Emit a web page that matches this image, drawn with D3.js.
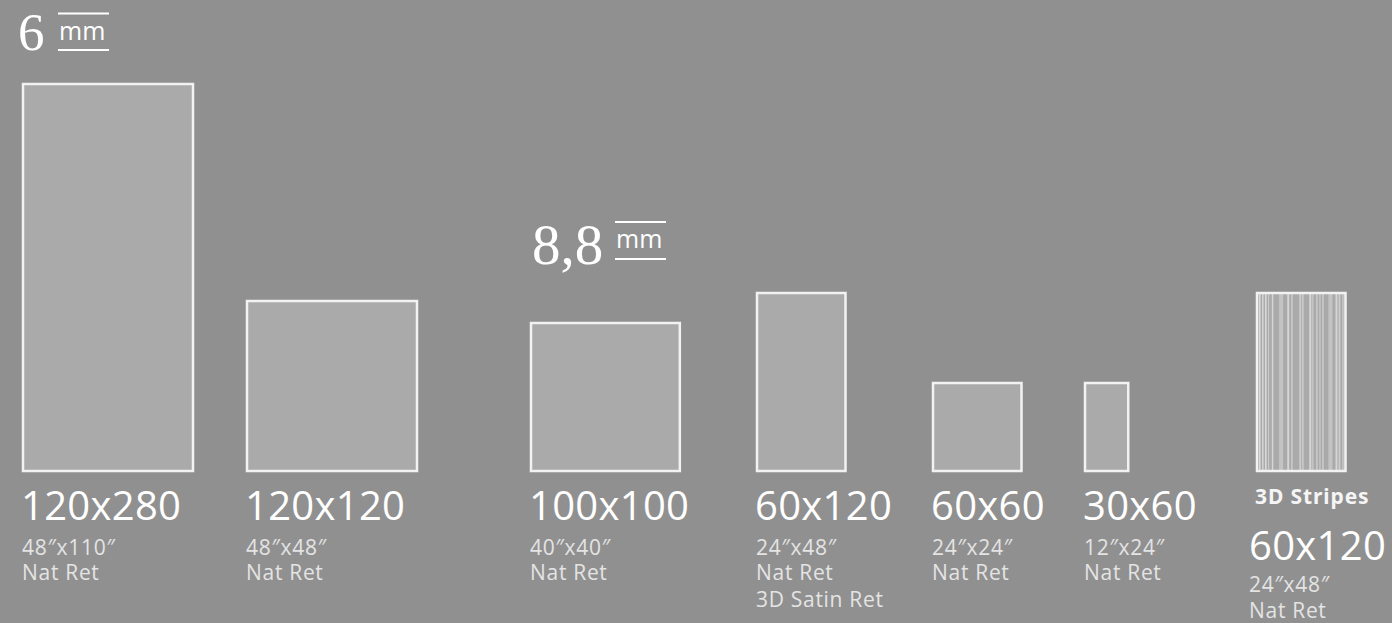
<!DOCTYPE html>
<html>
<head>
<meta charset="utf-8">
<script src="https://cdn.jsdelivr.net/npm/d3@7"></script>
<style>
  html, body { margin: 0; padding: 0; background: #909090; }
  svg { display: block; }
</style>
</head>
<body>
<div class="container"></div>
<script>
/********** the Data **********/
const sizes     = ["120x280", "120x120", "100x100", "60x120", "60x60", "30x60", "60x120"];
const widthsCm  = [120, 120, 100, 60, 60, 30, 60];
const heightsCm = [280, 120, 100, 120, 60, 60, 120];
const inches    = ["48″x110″", "48″x48″", "40″x40″", "24″x48″", "24″x24″", "12″x24″", "24″x48″"];
const finishes  = [["Nat Ret"], ["Nat Ret"], ["Nat Ret"], ["Nat Ret", "3D Satin Ret"], ["Nat Ret"], ["Nat Ret"], ["Nat Ret"]];
const thickness = ["6", "6", "8,8", "8,8", "8,8", "8,8", "8,8"];
const series    = ["", "", "", "", "", "", "3D Stripes"];
// stripe texture of the 3D Stripes tile: [start cm, width cm, strength]
const stripes = [[2,1,.6],[4,1,.5],[6,1,.6],[8,.7,.4],[10.5,1,.5],[15.3,2.7,.3],[20.7,1.3,.5],[23.3,1,.4],
                 [28.7,1.3,.4],[30.7,.8,.5],[35.3,1.4,.5],[37.3,.8,.4],[40,.8,.5],[42,.8,.4],[44,.8,.5],
                 [48,2.7,.3],[52.7,1.3,.5],[54.7,1.3,.4],[57.3,.7,.5]];

/********** drawChart function **********/
function drawChart() {
  let width = 1392, height = 623;
  let baseY = 472;

  // layout: left edge of each column
  let colX = [22, 246, 530, 756, 932, 1084, 1256];

  // each thickness group is drawn at its own scale
  // (the 6 mm drawing squeezes the long side of the big slab)
  let scales = {
    "6":   {x: d3.scaleLinear().domain([0, 120]).range([0, 172]),
            y: d3.scaleLinear().domain([120, 280]).range([172, 389])},
    "8,8": {x: d3.scaleLinear().domain([0, 120]).range([0, 181]),
            y: d3.scaleLinear().domain([0, 120]).range([0, 180])}
  };

  let tiles = sizes.map((s, i) => ({
    size: s, w: widthsCm[i], h: heightsCm[i], inch: inches[i],
    fin: finishes[i], th: thickness[i], series: series[i], x: colX[i]
  }));

  let chart = d3.select(".container")
    .append("svg")
      .attr("class", "chart")
      .attr("width", width)
      .attr("height", height);

  chart.append("rect").attr("width", width).attr("height", height).attr("fill", "#909090");

  /***** thickness headers *****/
  let headers = [
    {th: "6",   x: 18,  y: 50,  fs: 53, mx: 58,  top: 13.5, bot: 50, mmY: 40},
    {th: "8,8", x: 532, y: 264, fs: 57, mx: 615, top: 222, bot: 259, mmY: 248}
  ];
  let hg = chart.selectAll(".header").data(headers).enter().append("g").attr("class", "header");
  hg.append("text")
    .attr("x", d => d.x).attr("y", d => d.y)
    .attr("font-family", "Liberation Serif, serif")
    .attr("font-size", d => d.fs)
    .attr("fill", "#ffffff")
    .text(d => d.th);
  hg.append("text")
    .attr("x", d => d.mx + 1).attr("y", d => d.mmY)
    .attr("font-family", "Open Sans, sans-serif")
    .attr("font-size", 25)
    .attr("fill", "#ffffff")
    .text("mm");
  hg.selectAll("line").data(d => [{d, y: d.top}, {d, y: d.bot}]).enter().append("line")
    .attr("x1", o => o.d.mx).attr("x2", o => o.d.mx + 51)
    .attr("y1", o => o.y).attr("y2", o => o.y)
    .attr("stroke", "#ffffff").attr("stroke-width", 2);

  /***** tiles *****/
  let g = chart.selectAll(".tile").data(tiles).enter().append("g").attr("class", "tile");

  g.append("rect")
    .attr("x", d => d.x + 1)
    .attr("y", d => baseY - scales[d.th].y(d.h) + 1)
    .attr("width", d => scales[d.th].x(d.w) - 2)
    .attr("height", d => scales[d.th].y(d.h) - 2)
    .attr("fill", "#aaaaaa");

  // stripe texture
  g.filter(d => d.series === "3D Stripes").each(function(d) {
    let sx = scales[d.th].x, top = baseY - scales[d.th].y(d.h);
    d3.select(this).selectAll(".stripe").data(stripes).enter().append("rect")
      .attr("class", "stripe")
      .attr("x", s => d.x + sx(s[0]))
      .attr("y", top)
      .attr("width", s => sx(s[1]))
      .attr("height", scales[d.th].y(d.h))
      .attr("fill", "#ffffff")
      .attr("opacity", s => s[2]);
  });

  g.append("rect")
    .attr("x", d => d.x + 1)
    .attr("y", d => baseY - scales[d.th].y(d.h) + 1)
    .attr("width", d => scales[d.th].x(d.w) - 2)
    .attr("height", d => scales[d.th].y(d.h) - 2)
    .attr("fill", "none")
    .attr("stroke", "#f2f2f2")
    .attr("stroke-width", 2.5);

  /***** labels *****/
  g.append("text")
    .attr("x", d => d.x - 1)
    .attr("y", 504)
    .attr("font-family", "Noto Sans, sans-serif")
    .attr("font-weight", "bold")
    .attr("font-size", 21)
    .attr("letter-spacing", 0.9)
    .attr("fill", "#f5f5f5")
    .text(d => d.series);

  let off = d => d.series ? 40 : 0;

  g.append("text")
    .attr("x", d => d.series ? d.x - 7 : d.x - 1)
    .attr("y", d => 520 + off(d))
    .attr("font-family", "Open Sans, sans-serif")
    .attr("font-size", 40)
    .attr("letter-spacing", 0.3)
    .attr("fill", "#ffffff")
    .text(d => d.size);

  g.append("text")
    .attr("x", d => d.series ? d.x - 7 : d.x)
    .attr("y", d => 555 + off(d) - (d.series ? 3 : 0))
    .attr("font-family", "Open Sans, sans-serif")
    .attr("font-size", 21)
    .attr("letter-spacing", 0.7)
    .attr("fill", "#e4e4e4")
    .text(d => d.inch);

  g.each(function(d) {
    d3.select(this).selectAll(".fin").data(d.fin).enter().append("text")
      .attr("class", "fin")
      .attr("x", d.series ? d.x - 7 : d.x)
      .attr("y", (f, j) => 580 + off(d) - (d.series ? 2 : 0) + j * 27)
      .attr("font-family", "Open Sans, sans-serif")
      .attr("font-size", 21)
      .attr("letter-spacing", 0.7)
      .attr("fill", "#e4e4e4")
      .text(f => f);
  });
}

drawChart();
</script>
</body>
</html>
